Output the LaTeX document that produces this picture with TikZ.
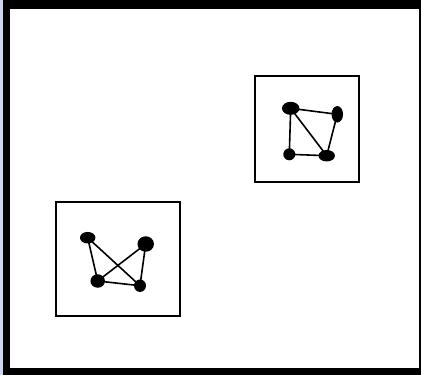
\documentclass[tikz,border=0pt]{standalone}
\usetikzlibrary{shapes.geometric}
\begin{document}
\begin{tikzpicture}[x=1pt,y=-1pt,
  vtx/.style={ellipse,fill=black,inner sep=0pt},
  edge/.style={line width=1.6pt},
  frame/.style={draw=black,line width=2.4pt}]
\definecolor{bgblue}{RGB}{200,214,240}
\useasboundingbox (0,0) rectangle (421,375);
\fill[bgblue] (0,0) rectangle (421,375);
\fill[black] (3,0) rectangle (421,375);
\fill[white] (10,9) rectangle (419,368);
% right box
\draw[frame] (255,76) rectangle (359,182);
\node[vtx,minimum width=17.5pt,minimum height=13pt] (A) at (290.7,108.3) {};
\node[vtx,minimum width=11.5pt,minimum height=16.5pt] (B) at (337.3,114.3) {};
\node[vtx,minimum width=12pt,minimum height=12pt] (C) at (289.3,154.3) {};
\node[vtx,minimum width=16.5pt,minimum height=11.5pt] (D) at (326.7,155.7) {};
\draw[edge] (A.center) -- (B.center);
\draw[edge] (A.center) -- (C.center);
\draw[edge] (A.center) -- (D.center);
\draw[edge] (B.center) -- (D.center);
\draw[edge] (C.center) -- (D.center);
% left box
\draw[frame] (56,202) rectangle (180,316);
\node[vtx,minimum width=15.5pt,minimum height=11.5pt] (E) at (87.7,237.7) {};
\node[vtx,minimum width=16.5pt,minimum height=15.5pt] (F) at (145.7,244) {};
\node[vtx,minimum width=14.5pt,minimum height=13.5pt] (G) at (97.7,281) {};
\node[vtx,minimum width=12pt,minimum height=12.5pt] (H) at (140,285.7) {};
\draw[edge] (E.center) -- (G.center);
\draw[edge] (E.center) -- (H.center);
\draw[edge] (F.center) -- (G.center);
\draw[edge] (F.center) -- (H.center);
\draw[edge] (G.center) -- (H.center);
\end{tikzpicture}
\end{document}
